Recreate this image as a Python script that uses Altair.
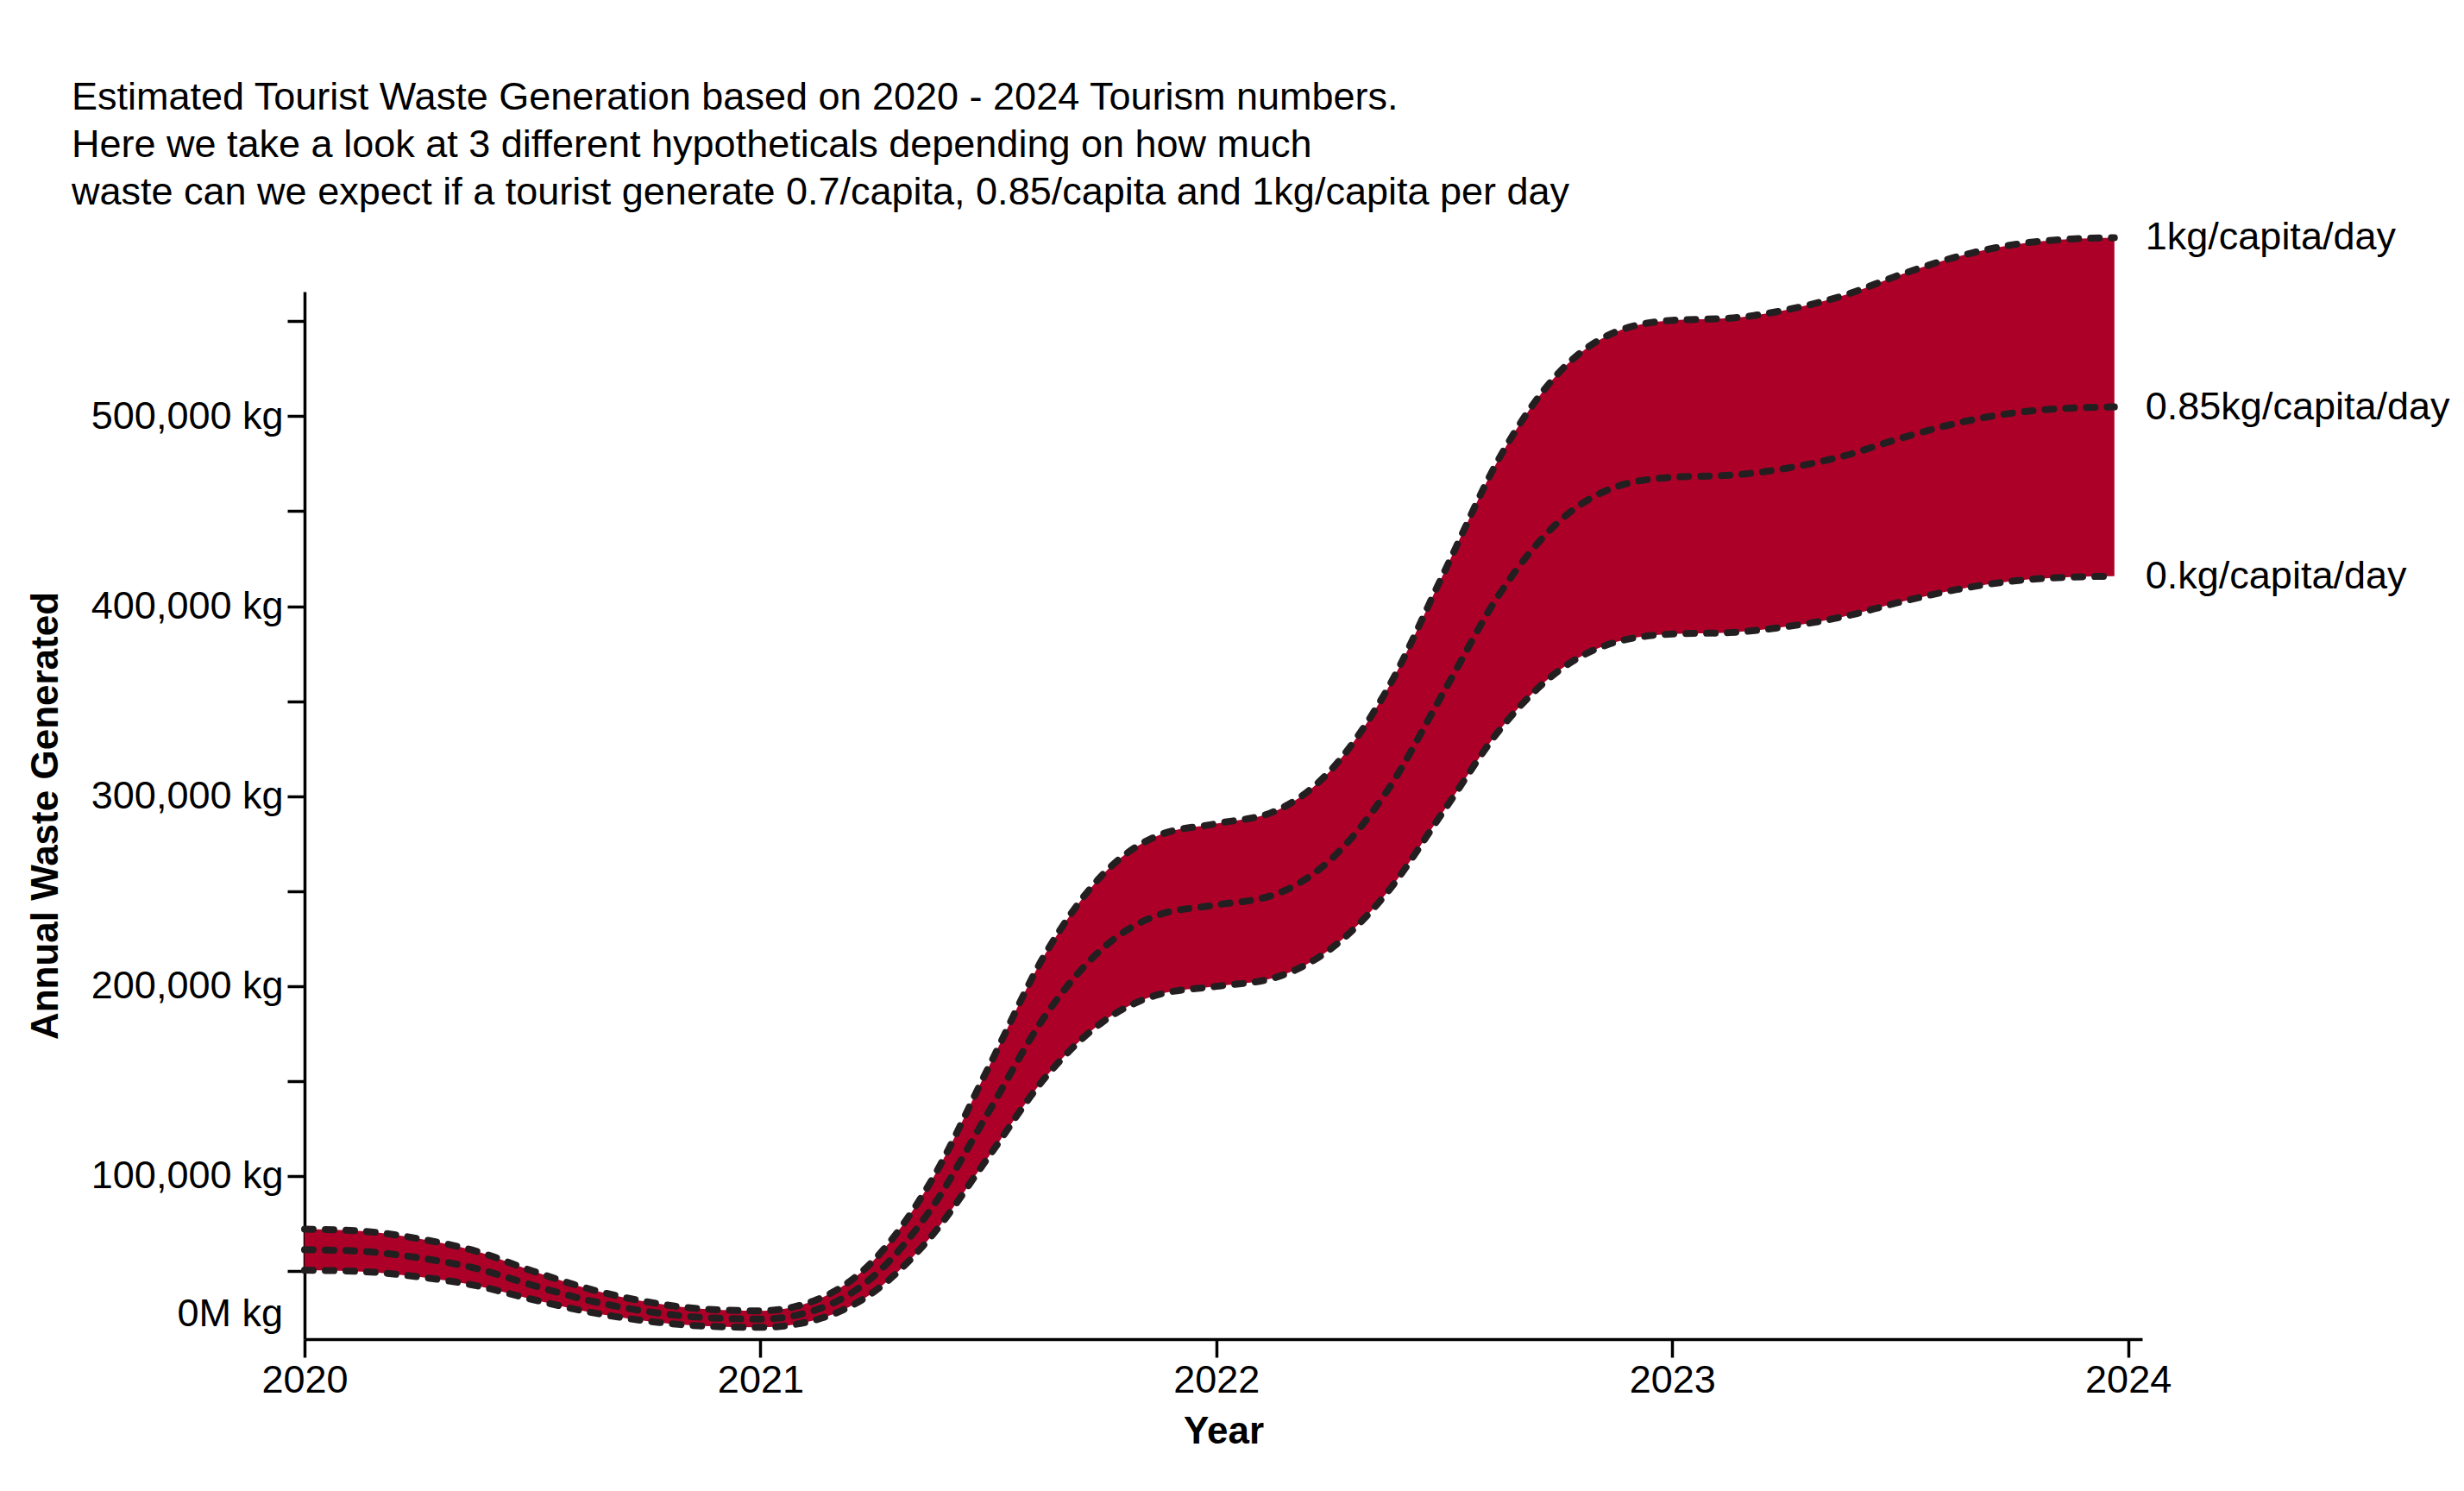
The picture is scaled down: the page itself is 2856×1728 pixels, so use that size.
import altair as alt
import pandas as pd

# ---- data (kg) ----
years = [2020.0, 2020.125, 2020.25, 2020.375, 2020.5, 2020.625, 2020.75, 2020.875,
         2021.0, 2021.125, 2021.25, 2021.375, 2021.5, 2021.625, 2021.75, 2021.875,
         2022.0, 2022.125, 2022.25, 2022.375, 2022.5, 2022.625, 2022.75, 2022.875,
         2023.0, 2023.125, 2023.25, 2023.375, 2023.5, 2023.625, 2023.75, 2023.875,
         2023.97]

waste_1kg = [72000, 71000, 67000, 60500, 50000, 40500, 33800, 30000,
             29000, 35000, 56000, 97500, 157000, 217000, 258500, 279500,
             285500, 291700, 313400, 356200, 418000, 479800, 522600, 544300,
             550500, 551600, 556000, 563500, 574500, 584000, 590400, 593300,
             594000]

waste_085kg = [61200, 60350, 56950, 51400, 42500, 34400, 28700, 25500,
               24650, 29750, 47600, 82900, 133450, 184450, 219700, 237600,
               242700, 247900, 266400, 302800, 355300, 407800, 444200, 462700,
               467900, 468900, 472600, 479000, 488300, 496400, 501800, 504300,
               504900]

waste_07kg = [50400, 49700, 46900, 42350, 35000, 28350, 23660, 21000,
              20300, 24500, 39200, 68250, 109900, 151900, 180950, 195650,
              199850, 204200, 219400, 249300, 292600, 335900, 365800, 381000,
              385350, 386100, 389200, 394450, 402150, 408800, 413300, 415300,
              415800]

series_labels = ["1kg/capita/day", "0.85kg/capita/day", "0.kg/capita/day"]

title_lines = [
    "Estimated Tourist Waste Generation based on 2020 - 2024 Tourism numbers.",
    "Here we take a look at 3 different hypotheticals depending on how much",
    "waste can we expect if a tourist generate 0.7/capita, 0.85/capita and 1kg/capita per day",
]

x_ticks = [2020, 2021, 2022, 2023, 2024]
y_ticks = [50000, 100000, 150000, 200000, 250000, 300000, 350000,
           400000, 450000, 500000, 550000]
zero_label = "0M kg"
zero_label_pos = 27500

# ---- tables ----
wide = pd.DataFrame({"year": years, "high": waste_1kg,
                     "mid": waste_085kg, "low": waste_07kg})
long = pd.concat([
    pd.DataFrame({"year": years, "value": waste_1kg, "series": "high"}),
    pd.DataFrame({"year": years, "value": waste_085kg, "series": "mid"}),
    pd.DataFrame({"year": years, "value": waste_07kg, "series": "low"}),
])
ends = pd.DataFrame({
    "year": [years[-1]] * 3,
    "value": [waste_1kg[-1], waste_085kg[-1], waste_07kg[-1]],
    "label": series_labels,
})
zero_df = pd.DataFrame({"t": [zero_label], "v": [zero_label_pos]})

FONT = "Liberation Sans"
FS = 45
W, H = 2130, 1214

xscale = alt.Scale(domain=[2020, 2024.031], nice=False, zero=False)
yscale = alt.Scale(domain=[14100, 565600], nice=False, zero=False)

xaxis = alt.Axis(
    title="Year", values=x_ticks, format="d", grid=False,
    tickSize=21, tickWidth=3.5, tickColor="black",
    domainWidth=3.5, domainColor="black",
    labelFont=FONT, labelFontSize=FS, labelColor="black", labelPadding=4,
    labelFlush=False, labelOverlap=False, labelLimit=0,
    titleFont=FONT, titleFontSize=44, titleFontWeight="bold",
    titleColor="black", titlePadding=15,
)
yaxis = alt.Axis(
    title="Annual Waste Generated", values=y_ticks, grid=False,
    labelExpr="datum.value % 100000 == 0 ? format(datum.value, ',') + ' kg' : ''",
    tickSize=20, tickWidth=3.5, tickColor="black",
    domainWidth=3.5, domainColor="black",
    labelFont=FONT, labelFontSize=FS, labelColor="black", labelPadding=5,
    labelOverlap=False, labelLimit=0,
    titleFont=FONT, titleFontSize=44, titleFontWeight="bold",
    titleColor="black", titleX=-278, titleY=H / 2, titleAngle=270,
    titleAlign="center", titleBaseline="bottom",
)


def X(field):
    return alt.X(f"{field}:Q", scale=xscale, axis=xaxis)


def Y(field):
    return alt.Y(f"{field}:Q", scale=yscale, axis=yaxis)


area = alt.Chart(wide).mark_area(
    color="#ad0028", interpolate="monotone"
).encode(x=X("year"), y=Y("high"), y2="low:Q")

lines = alt.Chart(long).mark_line(
    color="#231f20", strokeWidth=8, strokeDash=[10, 14], strokeCap="round",
    interpolate="monotone"
).encode(x=X("year"), y=Y("value"), detail="series:N")

labels = alt.Chart(ends).mark_text(
    align="left", baseline="middle", dx=36, font=FONT, fontSize=FS, color="black"
).encode(x=X("year"), y=Y("value"), text="label:N")

zero_text = alt.Chart(zero_df).mark_text(
    align="right", baseline="middle", font=FONT, fontSize=FS, color="black"
).encode(x=alt.value(-25), y=Y("v"), text="t:N")

chart = alt.layer(area, lines, labels, zero_text).properties(
    width=W, height=H,
    autosize=alt.AutoSizeParams(type="none"),
    padding={"left": 345, "top": 330, "right": 365, "bottom": 150},
    background="white",
    title=alt.TitleParams(
        text=title_lines, anchor="start", frame="group", dx=-270,
        font=FONT, fontSize=FS, fontWeight="normal", color="black",
        lineHeight=55, offset=7,
    ),
).configure_view(strokeWidth=0)

chart.save("out.html", embed_options={"renderer": "svg", "actions": False})
